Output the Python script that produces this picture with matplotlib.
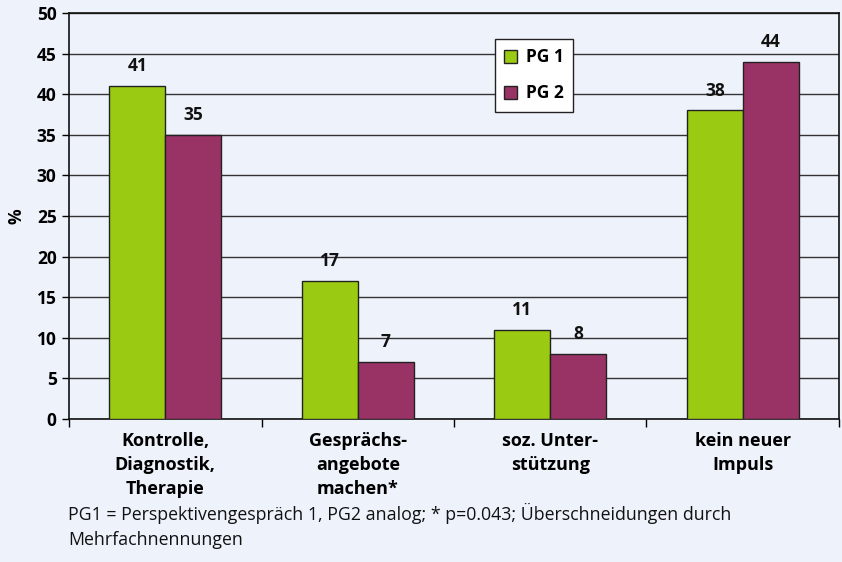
import matplotlib
matplotlib.use("Agg")
import matplotlib.pyplot as plt
import numpy as np

categories = ["Kontrolle,\nDiagnostik,\nTherapie", "Gesprächs-\nangebote\nmachen*",
              "soz. Unter-\nstützung", "kein neuer\nImpuls"]
pg1 = [41, 17, 11, 38]
pg2 = [35, 7, 8, 44]
series_names = ["PG 1", "PG 2"]
yticks = list(range(0, 55, 5))
footnote = ("PG1 = Perspektivengespräch 1, PG2 analog; * p=0.043; Überschneidungen durch\n"
            "Mehrfachnennungen")

BG = "#EEF2FB"
GREEN = "#9ACA12"
PURPLE = "#993366"
FONT = ["Open Sans", "DejaVu Sans"]

fig = plt.figure(figsize=(8.42, 5.62), dpi=100, facecolor=BG)
ax = fig.add_axes([0.082, 0.2544, 0.9144, 0.7225])
ax.set_facecolor(BG)

x = np.arange(len(categories))
w = 0.29
b1 = ax.bar(x - w / 2, pg1, w, color=GREEN, edgecolor="#222222", linewidth=1.0,
            label=series_names[0], zorder=3)
b2 = ax.bar(x + w / 2, pg2, w, color=PURPLE, edgecolor="#222222", linewidth=1.0,
            label=series_names[1], zorder=3)

# value labels above bars
for bars, vals in ((b1, pg1), (b2, pg2)):
    for r, v in zip(bars, vals):
        ax.text(r.get_x() + r.get_width() / 2, v + 2.45, str(v), ha="center", va="center",
                fontsize=12.5, fontweight="bold", family=FONT, color="#111111")

ax.set_xlim(-0.5, len(categories) - 0.5)
ax.set_ylim(0, 50)
ax.set_yticks(yticks)
ax.set_yticklabels([str(t) for t in yticks], fontsize=12.5, fontweight="bold", family=FONT)
ax.yaxis.grid(True, color="#333333", linewidth=1.0, zorder=0)
ax.set_axisbelow(True)

ax.set_xticks(np.arange(-0.5, len(categories), 1.0))
ax.set_xticklabels([])
ax.set_xticks(x, minor=True)
ax.set_xticklabels(categories, minor=True, fontsize=13, fontweight="bold", family=FONT,
                   linespacing=1.42)
ax.tick_params(axis="x", which="minor", length=0, pad=9.5)
ax.tick_params(axis="x", which="major", length=6, width=1, direction="out")
ax.tick_params(axis="y", length=5, width=1, direction="out", pad=4)

for s in ("left", "bottom", "top", "right"):
    ax.spines[s].set_color("#111111")
    ax.spines[s].set_linewidth(1.2)

ax.set_ylabel("%", fontsize=12.5, fontweight="bold", family=FONT, labelpad=8)

leg = ax.legend(loc="upper left", bbox_to_anchor=(0.5415, 0.958), frameon=True, fancybox=False,
                edgecolor="#222222", facecolor="white", framealpha=1.0,
                prop={"family": FONT, "weight": "bold", "size": 12.5},
                handlelength=0.75, handleheight=0.75, labelspacing=1.05, borderpad=0.55,
                handletextpad=0.5)
leg.get_frame().set_linewidth(1.0)
leg.set_zorder(5)

fig.text(0.081, 0.024, footnote, fontsize=12.8, family=FONT, color="#111111",
         va="bottom", ha="left", linespacing=1.45)

fig.savefig("out.png", dpi=100, facecolor=BG)
